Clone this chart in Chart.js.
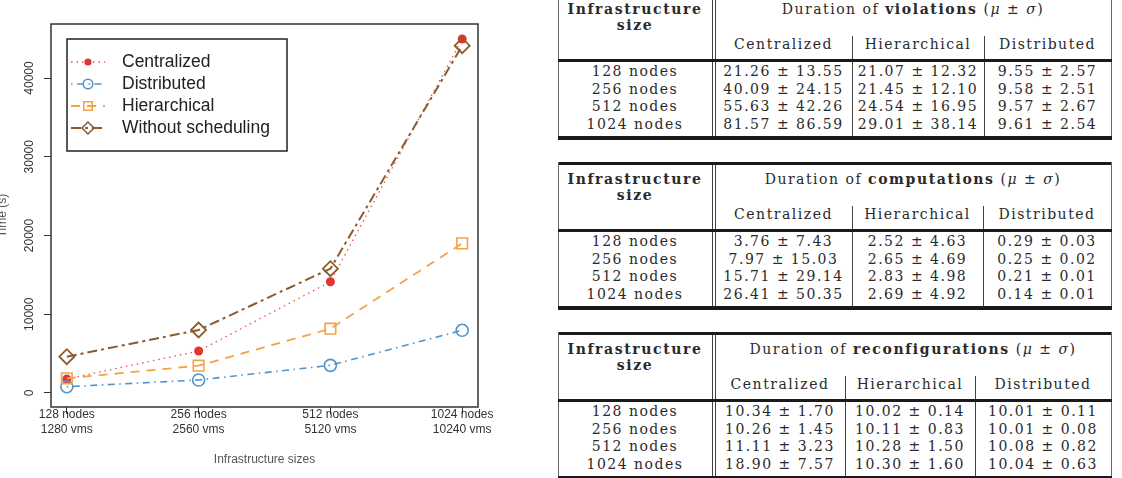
<!DOCTYPE html>
<html>
<head>
<meta charset="utf-8">
<script src="https://cdn.jsdelivr.net/npm/chart.js@4.4.0/dist/chart.umd.min.js"></script>
<style>
body { margin: 0; background: #fff; width: 1122px; height: 478px; overflow: hidden; position: relative; font-family: "DejaVu Serif", serif; color: #2a2a2a; }
#plot { position: absolute; left: 0; top: 0; }
.tx { position: absolute; white-space: nowrap; transform: translate(-50%, -50%); font-size: 14px; letter-spacing: 1.5px; line-height: 17px; }
.tx b { letter-spacing: 1.6px; }
.ln { position: absolute; background: #1a1a1a; }
</style>
</head>
<body>
<canvas id="plot" width="540" height="478"></canvas>
<div id="tables"></div>
<script>
// chart data
const sizeNodes = ['128 nodes', '256 nodes', '512 nodes', '1024 nodes'];
const sizeVms = ['1280 vms', '2560 vms', '5120 vms', '10240 vms'];
const centralized = [1780, 5330, 14130, 44950];
const distributed = [800, 1650, 3510, 7960];
const hierarchical = [1860, 3470, 8170, 19000];
const withoutScheduling = [4610, 8000, 15790, 44100];
const yTicks = [0, 10000, 20000, 30000, 40000];

// table data
const tableSizes = ['128 nodes', '256 nodes', '512 nodes', '1024 nodes'];
const tableCols = ['Centralized', 'Hierarchical', 'Distributed'];
const violations = [
    ['21.26 ± 13.55', '21.07 ± 12.32', '9.55 ± 2.57'],
    ['40.09 ± 24.15', '21.45 ± 12.10', '9.58 ± 2.51'],
    ['55.63 ± 42.26', '24.54 ± 16.95', '9.57 ± 2.67'],
    ['81.57 ± 86.59', '29.01 ± 38.14', '9.61 ± 2.54']
];
const computations = [
    ['3.76 ± 7.43', '2.52 ± 4.63', '0.29 ± 0.03'],
    ['7.97 ± 15.03', '2.65 ± 4.69', '0.25 ± 0.02'],
    ['15.71 ± 29.14', '2.83 ± 4.98', '0.21 ± 0.01'],
    ['26.41 ± 50.35', '2.69 ± 4.92', '0.14 ± 0.01']
];
const reconfigurations = [
    ['10.34 ± 1.70', '10.02 ± 0.14', '10.01 ± 0.11'],
    ['10.26 ± 1.45', '10.11 ± 0.83', '10.01 ± 0.08'],
    ['11.11 ± 3.23', '10.28 ± 1.50', '10.08 ± 0.82'],
    ['18.90 ± 7.57', '10.30 ± 1.60', '10.04 ± 0.63']
];

function pts(arr) {
    return arr.map((v, i) => ({ x: i + 1, y: v }));
}

Chart.defaults.font.family = '"Liberation Sans", Arial, sans-serif';
Chart.defaults.font.size = 12;
Chart.defaults.color = '#333';

const boxPlugin = {
    id: 'box',
    afterDraw(chart) {
        const ctx = chart.ctx;
        const a = chart.chartArea;
        ctx.save();
        ctx.strokeStyle = '#333';
        ctx.lineWidth = 1.5;
        ctx.strokeRect(a.left, a.top, a.right - a.left, a.bottom - a.top);

        // legend box, R style
        ctx.strokeStyle = '#222';
        ctx.lineWidth = 1.5;
        ctx.strokeRect(67, 39, 220, 112);
        chart.data.datasets.forEach((ds, i) => {
            const y = 62 + 22 * i;
            ctx.save();
            ctx.strokeStyle = ds.borderColor;
            ctx.lineWidth = ds.borderWidth;
            ctx.setLineDash(ds.borderDash);
            ctx.beginPath();
            ctx.moveTo(71, y);
            ctx.lineTo(105, y);
            ctx.stroke();
            ctx.restore();
            ctx.save();
            ctx.strokeStyle = ds.pointBorderColor;
            ctx.fillStyle = ds.pointBackgroundColor;
            Chart.helpers.drawPoint(ctx, {
                pointStyle: ds.pointStyle,
                radius: ds.pointRadius * 0.8,
                borderWidth: ds.pointBorderWidth,
                rotation: 0
            }, 88, y);
            ctx.restore();
            ctx.fillStyle = '#222';
            ctx.font = '17.5px "Liberation Sans", Arial, sans-serif';
            ctx.textBaseline = 'middle';
            ctx.fillText(ds.label, 122, y);
        });
        ctx.restore();
    }
};

new Chart(document.getElementById('plot'), {
    type: 'line',
    data: {
        datasets: [{
            label: 'Centralized',
            data: pts(centralized),
            borderColor: '#e8554d',
            borderWidth: 1.3,
            borderDash: [1.5, 4],
            pointStyle: 'circle',
            pointRadius: 4.5,
            pointBorderWidth: 0,
            pointBorderColor: '#e3342f',
            pointBackgroundColor: '#e3342f',
            order: 3
        }, {
            label: 'Distributed',
            data: pts(distributed),
            borderColor: '#4f95cc',
            borderWidth: 1.6,
            borderDash: [1.5, 4.5, 7, 4.5],
            pointStyle: 'circle',
            pointRadius: 6,
            pointBorderWidth: 1.6,
            pointBorderColor: '#4f95cc',
            pointBackgroundColor: 'rgba(0,0,0,0)',
            order: 2
        }, {
            label: 'Hierarchical',
            data: pts(hierarchical),
            borderColor: '#f4a24a',
            borderWidth: 1.8,
            borderDash: [9, 7],
            pointStyle: 'rect',
            pointRadius: 7.5,
            pointBorderWidth: 1.6,
            pointBorderColor: '#f4a24a',
            pointBackgroundColor: 'rgba(0,0,0,0)',
            order: 1
        }, {
            label: 'Without scheduling',
            data: pts(withoutScheduling),
            borderColor: '#8c5b2e',
            borderWidth: 2,
            borderDash: [10, 4, 3, 4],
            pointStyle: 'rectRot',
            pointRadius: 7.5,
            pointBorderWidth: 1.8,
            pointBorderColor: '#8c5b2e',
            pointBackgroundColor: 'rgba(0,0,0,0)',
            order: 0
        }]
    },
    options: {
        responsive: false,
        animation: false,
        devicePixelRatio: 1,
        layout: { padding: { top: 24, right: 62, left: 0, bottom: 0 } },
        plugins: { legend: { display: false }, tooltip: { enabled: false } },
        elements: { line: { tension: 0 } },
        scales: {
            x: {
                type: 'linear',
                min: 0.88,
                max: 4.12,
                afterBuildTicks: (s) => { s.ticks = sizeNodes.map((n, i) => ({ value: i + 1 })); },
                afterFit: (s) => { s.height = 71; },
                ticks: {
                    autoSkip: false,
                    maxRotation: 0,
                    padding: -7,
                    font: { size: 12, lineHeight: 1.25 },
                    callback: (v) => {
                        const i = Math.round(v) - 1;
                        return [sizeNodes[i], sizeVms[i]];
                    }
                },
                grid: { display: true, drawOnChartArea: false, drawTicks: true, tickLength: 7, color: '#333' },
                border: { display: false },
                title: { display: true, text: 'Infrastructure sizes', color: '#555', font: { size: 12 }, padding: { top: 0, bottom: 10.8 } }
            },
            y: {
                min: -1780,
                max: 46860,
                afterBuildTicks: (s) => { s.ticks = yTicks.map(v => ({ value: v })); },
                afterFit: (s) => { s.width = 51; },
                ticks: {
                    minRotation: 90,
                    maxRotation: 90,
                    crossAlign: 'center',
                    padding: -2.5,
                    callback: (v) => String(v)
                },
                grid: { display: true, drawOnChartArea: false, drawTicks: true, tickLength: 7, color: '#333' },
                border: { display: false },
                title: { display: true, text: 'Time (s)', color: '#555', font: { size: 12 }, padding: { top: -5, bottom: 0 } }
            }
        }
    },
    plugins: [boxPlugin]
});

// tables drawn as positioned html
const holder = document.getElementById('tables');

function text(x, y, html) {
    const d = document.createElement('div');
    d.className = 'tx';
    d.style.left = x + 'px';
    d.style.top = y + 'px';
    d.innerHTML = html;
    holder.appendChild(d);
}

function rule(x, y, w, h, color) {
    const d = document.createElement('div');
    d.className = 'ln';
    d.style.left = x + 'px';
    d.style.top = y + 'px';
    d.style.width = w + 'px';
    d.style.height = h + 'px';
    if (color) d.style.background = color;
    holder.appendChild(d);
}

function buildTable(top, sep, title, rows) {
    const L = 558, R = 1111, D1 = 712, D2 = 715;
    rule(L, top, R - L + 1, 3);
    rule(L, top, 1, 148, '#666');
    rule(R, top, 1, 148, '#666');
    rule(D1, top + 3, 1, 141, '#444');
    rule(D2, top + 3, 1, 141, '#444');
    text((L + D1) / 2, top + 17, '<b>Infrastructure</b>');
    text((L + D1) / 2, top + 33, '<b>size</b>');
    text((D2 + R) / 2, top + 17, 'Duration of <b>' + title + '</b> (<i>μ</i> ± <i>σ</i>)');
    const cx = [(D2 + sep[0]) / 2, (sep[0] + sep[1]) / 2, (sep[1] + R) / 2];
    tableCols.forEach((c, i) => text(cx[i], top + 52, c));
    rule(sep[0], top + 44, 1, 100, '#444');
    rule(sep[1], top + 44, 1, 100, '#444');
    rule(L, top + 67, R - L + 1, 3);
    rows.forEach((r, j) => {
        const y = top + 78.85 + 17.7 * j;
        text((L + D1) / 2, y, tableSizes[j]);
        r.forEach((v, i) => text(cx[i], y, v));
    });
    rule(L, top + 144, R - L + 1, 4);
}

buildTable(-8, [852, 984], 'violations', violations);
buildTable(162, [852, 983], 'computations', computations);
buildTable(332, [845, 975], 'reconfigurations', reconfigurations);
</script>
</body>
</html>
